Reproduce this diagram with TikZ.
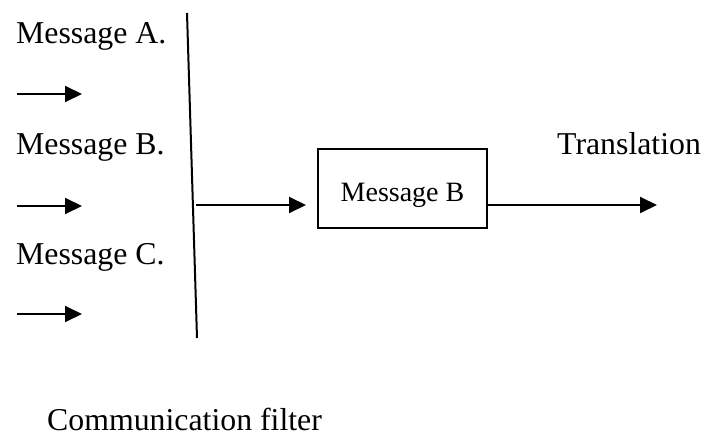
\documentclass[tikz,border=0pt]{standalone}
\usepackage{fontspec}
\setmainfont{Liberation Serif}
\usetikzlibrary{arrows.meta}
\tikzset{
  lbl/.style={inner sep=0pt, anchor=base west, font=\fontsize{31.8}{36}\selectfont},
  msgbox/.style={rectangle, draw, line width=2pt, minimum width=169pt, minimum height=79pt,
                 inner sep=0pt, text height=25pt, text depth=0pt, font=\fontsize{28}{32}\selectfont},
  arr/.style={-{Triangle[length=17pt, width=16pt]}, line width=2pt}
}

\begin{document}
\begin{tikzpicture}[x=1pt, y=-1pt]
\useasboundingbox (0,0) rectangle (704,436);
\node[lbl] (ma) at (16,44) {Message A.};
\node[lbl] (mbl) at (16,154) {Message B.};
\node[lbl] (mc) at (16,264) {Message C.};
\foreach \y/\n in {94/a,206/b,314/c} {
  \coordinate (in\n s) at (17,\y);
  \coordinate (in\n e) at (82,\y);
  \draw[arr] (in\n s) -- (in\n e);
}
% the filter line
\coordinate (ftop) at (187,13); \coordinate (fbot) at (197,338);
\draw[line width=2pt] (ftop) -- (fbot);
\node[msgbox] (mb) at (402.5,188.5) {Message B};
\coordinate (fout) at (196,205);
\draw[arr, shorten >=11pt] (fout) -- (mb.west |- fout);
\node[lbl] (tr) at (557,154) {Translation};
\coordinate (out) at (657,205);
\draw[arr] (mb.east |- out) -- (out);
\node[lbl] (cf) at (47,430) {Communication filter};
\end{tikzpicture}
\end{document}
